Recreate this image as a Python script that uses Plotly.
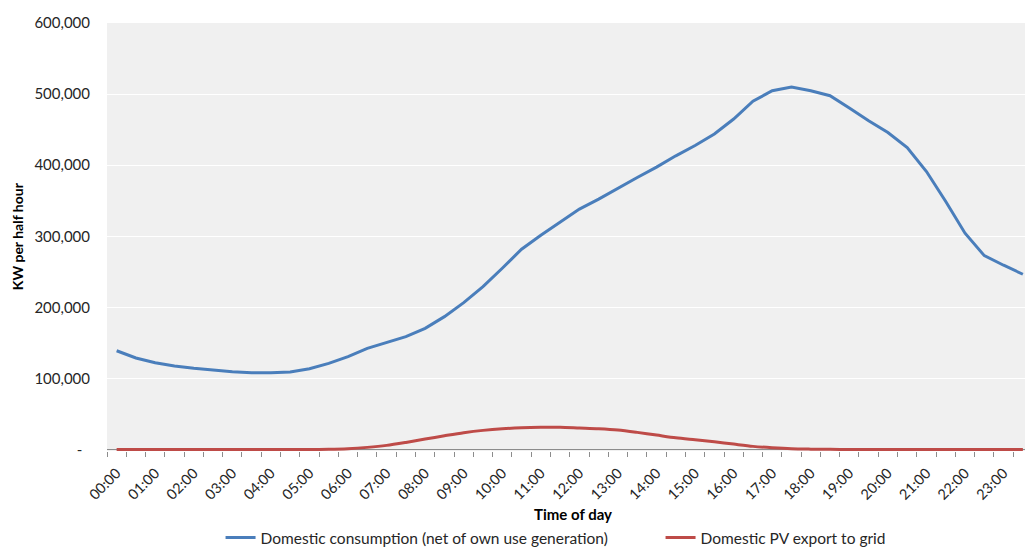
import plotly.graph_objects as go

# Half-hourly time slots across the day
time_slots = [f"{h:02d}:{m:02d}" for h in range(24) for m in (0, 30)]
hour_labels = [f"{h:02d}:00" for h in range(24)]

# Domestic consumption, net of own-use generation (kW per half hour)
consumption_kw = [
    139000, 128800, 122200, 117500, 114300, 111500, 109500, 108100,
    108000, 109100, 113800, 121300, 130700, 142400, 150400, 158800,
    170600, 187000, 206700, 229200, 255100, 281800, 301500, 320000,
    338200, 352200, 367700, 382700, 397300, 413200, 427700, 443800,
    464900, 490000, 504700, 509900, 504700, 497700, 480300, 462500,
    446000, 424900, 391100, 348900, 304400, 272800, 259300, 246600,
]

# Domestic PV export to grid (kW per half hour)
pv_export_kw = [
    0, 0, 0, 0, 0, 0, 0, 0,
    0, 0, 0, 300, 1200, 3100, 5900, 10100,
    14800, 19400, 23700, 27000, 29300, 30700, 31300, 31300,
    30300, 29300, 27500, 24200, 20400, 16600, 13800, 11000,
    7700, 4500, 2500, 1100, 600, 300, 0, 0,
    0, 0, 0, 0, 0, 0, 0, 0,
]

y_ticks = [0, 100000, 200000, 300000, 400000, 500000, 600000]
y_tick_text = ["-\u00a0\u00a0"] + [f"{v:,}" for v in y_ticks[1:]]

FONT = "Lato"
TEXT = "#262626"
BLUE = "#4A7EBB"
RED = "#BE4B48"
AXIS_GREY = "#8C8C8C"

idx = list(range(len(time_slots)))

fig = go.Figure()
fig.add_trace(go.Scatter(
    x=idx, y=consumption_kw, mode="lines",
    name="Domestic consumption (net of own use generation)",
    line=dict(color=BLUE, width=3),
    customdata=time_slots,
    hovertemplate="%{customdata}: %{y:,}<extra></extra>",
))
fig.add_trace(go.Scatter(
    x=idx, y=pv_export_kw, mode="lines",
    name="Domestic PV export to grid",
    line=dict(color=RED, width=3, shape="spline", smoothing=0.8),
    customdata=time_slots,
    hovertemplate="%{customdata}: %{y:,}<extra></extra>",
))

fig.update_layout(
    width=1025, height=547,
    margin=dict(l=107, r=0, t=23, b=96, autoexpand=False),
    paper_bgcolor="white",
    plot_bgcolor="#F0F0F0",
    font=dict(family=FONT, size=15, color=TEXT),
    showlegend=True,
    legend=dict(
        orientation="h", x=0.603, xanchor="center", y=-0.203, yanchor="middle",
        font=dict(family=FONT, size=15.5, color=TEXT),
        itemwidth=30, tracegroupgap=0, bgcolor="rgba(0,0,0,0)",
        entrywidth=395, entrywidthmode="pixels",
    ),
    xaxis=dict(
        range=[-0.5, 47.11], automargin=False,
        tickmode="array", tickvals=list(range(0, 48, 2)), ticktext=hour_labels,
        tickangle=-45, ticks="", showgrid=False, showline=False, zeroline=False,
        tickfont=dict(family=FONT, size=14.5, color=TEXT),
        ticklabelstandoff=10,
        minor=dict(tickmode="linear", tick0=-0.5, dtick=1, ticks="outside",
                   ticklen=5, tickcolor=AXIS_GREY, tickwidth=1, showgrid=False),
        fixedrange=True,
    ),
    yaxis=dict(
        range=[-2000, 600000], automargin=False,
        tickmode="array", tickvals=y_ticks, ticktext=y_tick_text,
        ticks="", showline=False,
        showgrid=True, gridcolor="white", gridwidth=1,
        zeroline=True, zerolinecolor=AXIS_GREY, zerolinewidth=1,
        tickfont=dict(family=FONT, size=15, color=TEXT),
        ticklabelstandoff=16,
        fixedrange=True,
    ),
    annotations=[
        dict(text="<b>Time of day</b>", xref="paper", yref="paper",
             x=0.508, y=-0.148, xanchor="center", yanchor="middle",
             showarrow=False, font=dict(family=FONT, size=15, color="black")),
        dict(text="<b>KW per half hour</b>", xref="paper", yref="paper",
             x=-0.098, y=0.502, xanchor="center", yanchor="middle", textangle=-90,
             showarrow=False, font=dict(family=FONT, size=14, color="black")),
    ],
)

fig.write_html("out.html")
